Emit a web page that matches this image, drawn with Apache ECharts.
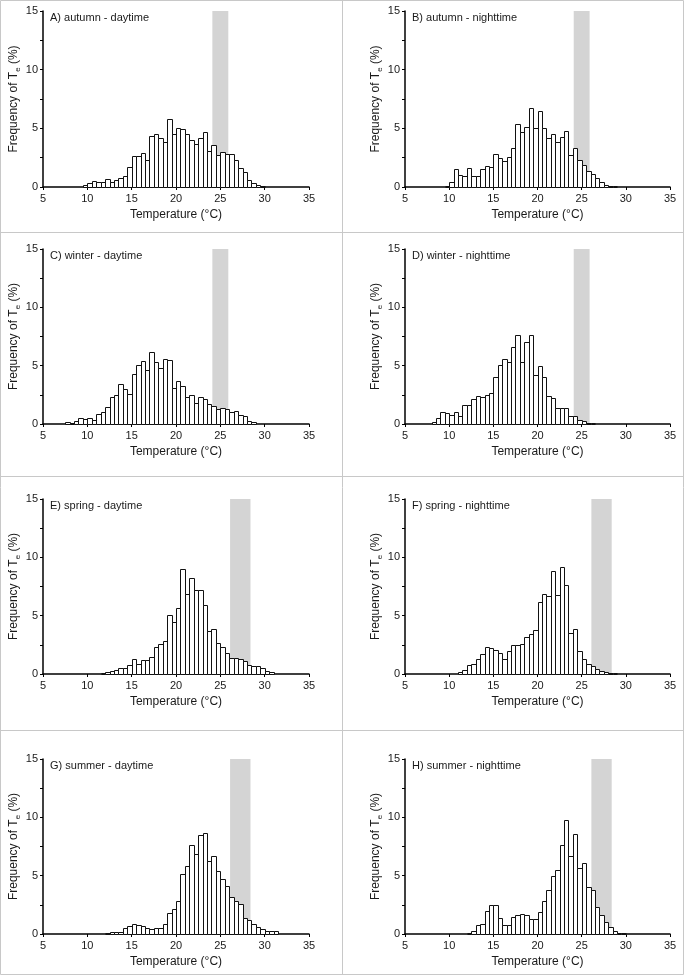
<!DOCTYPE html>
<html>
<head>
<meta charset="utf-8">
<script src="https://cdn.jsdelivr.net/npm/echarts@6/dist/echarts.min.js"></script>
<style>
  html, body { margin: 0; padding: 0; background: #fff; }
  #main { width: 685px; height: 976px; }
</style>
</head>
<body>
<div id="main"></div>
<script>
// 0.5 °C bins, left edge of each bin
const binLeft = [7.5, 8, 8.5, 9, 9.5, 10, 10.5, 11, 11.5, 12, 12.5, 13, 13.5, 14, 14.5,
  15, 15.5, 16, 16.5, 17, 17.5, 18, 18.5, 19, 19.5, 20, 20.5, 21, 21.5, 22, 22.5,
  23, 23.5, 24, 24.5, 25, 25.5, 26, 26.5, 27, 27.5, 28, 28.5, 29, 29.5, 30, 30.5, 31, 31.5];

// frequency (%) per bin
const autumnDay = [0, 0, 0, 0, 0.15, 0.3, 0.55, 0.4, 0.45, 0.7, 0.45, 0.6, 0.8, 0.95, 1.7,
  2.65, 2.6, 2.9, 2.3, 4.35, 4.5, 4.15, 3.85, 5.8, 4.55, 5.05, 4.95, 4.55, 4.0, 3.7, 4.15,
  4.7, 3.1, 3.6, 2.75, 3.0, 2.8, 2.8, 2.3, 1.6, 1.25, 0.6, 0.3, 0.15, 0.05, 0, 0, 0, 0];
const autumnNight = [0, 0, 0, 0, 0.05, 0.4, 1.5, 1.0, 0.9, 1.6, 0.9, 0.9, 1.5, 1.8, 1.7,
  2.8, 2.5, 2.2, 2.55, 3.3, 5.35, 4.7, 5.1, 6.7, 5.0, 6.5, 5.0, 4.2, 4.5, 3.8, 4.3,
  4.75, 2.7, 3.3, 2.3, 1.9, 1.35, 1.1, 0.75, 0.4, 0.2, 0.08, 0.05, 0, 0, 0, 0, 0, 0];
const winterDay = [0.15, 0.1, 0.3, 0.5, 0.4, 0.5, 0.35, 0.85, 1.0, 1.5, 2.3, 2.5, 3.4, 3.0, 2.55,
  4.3, 5.1, 5.4, 4.6, 6.2, 5.3, 4.8, 5.55, 5.45, 3.1, 3.7, 3.25, 2.35, 2.45, 1.8, 2.3,
  2.15, 1.7, 1.55, 1.3, 1.35, 1.3, 1.0, 1.1, 0.8, 0.65, 0.3, 0.15, 0, 0, 0, 0, 0, 0];
const winterNight = [0, 0.15, 0.5, 1.0, 0.95, 0.75, 1.0, 0.7, 1.6, 1.6, 2.15, 2.4, 2.3, 2.5, 2.65,
  4.0, 5.1, 5.6, 5.35, 6.6, 7.6, 5.3, 7.0, 7.6, 4.2, 5.0, 4.05, 2.4, 2.25, 1.35, 1.35,
  1.35, 0.65, 0.65, 0.35, 0.25, 0.1, 0.12, 0, 0, 0, 0, 0, 0, 0, 0, 0, 0, 0];
const springDay = [0, 0, 0, 0, 0, 0, 0, 0, 0.1, 0.2, 0.3, 0.35, 0.55, 0.55, 0.75,
  1.3, 0.9, 1.2, 1.2, 1.45, 2.3, 2.55, 2.85, 5.1, 4.5, 5.7, 9.0, 6.9, 8.2, 7.2, 7.2,
  5.9, 3.65, 3.85, 2.65, 2.3, 1.8, 1.4, 1.4, 1.3, 1.1, 0.8, 0.7, 0.7, 0.55, 0.3, 0.15, 0, 0];
const springNight = [0, 0, 0, 0, 0, 0, 0, 0.15, 0.35, 0.8, 0.9, 1.3, 1.7, 2.35, 2.2,
  2.05, 1.8, 1.3, 2.0, 2.45, 2.5, 2.55, 3.2, 3.45, 3.75, 6.15, 6.9, 6.7, 8.8, 6.75, 9.15,
  7.65, 3.55, 3.85, 1.95, 1.25, 0.9, 0.7, 0.4, 0.3, 0.15, 0.1, 0.05, 0, 0, 0, 0, 0, 0];
const summerDay = [0, 0, 0, 0, 0, 0, 0, 0, 0, 0.1, 0.15, 0.15, 0.2, 0.55, 0.65,
  0.9, 0.8, 0.7, 0.5, 0.4, 0.5, 0.55, 0.85, 1.8, 2.15, 2.85, 5.15, 5.8, 7.6, 6.9, 8.45,
  8.65, 6.25, 6.7, 5.4, 4.75, 4.1, 3.2, 2.85, 2.6, 1.4, 1.2, 0.85, 0.6, 0.45, 0.25, 0.25, 0.25, 0];
const summerNight = [0, 0, 0, 0, 0, 0, 0, 0, 0, 0.1, 0.3, 0.8, 0.9, 2.0, 2.45,
  2.5, 1.35, 0.8, 0.8, 1.5, 1.65, 1.7, 1.6, 1.25, 1.3, 1.9, 2.85, 3.75, 5.0, 5.5, 7.65,
  9.75, 6.7, 8.6, 5.65, 6.1, 4.0, 3.75, 2.3, 1.65, 1.0, 0.6, 0.25, 0.12, 0.05, 0, 0, 0, 0];

// shaded temperature ranges (°C)
const bandAutumnWinter = [24.1, 25.9];
const bandSpringSummer = [26.1, 28.4];

const xTicks = [5, 35, 5];   // min, max, step
const yTicks = [0, 15, 5];

const panels = [
  { label: 'A) autumn - daytime',   values: autumnDay,   band: bandAutumnWinter },
  { label: 'B) autumn - nighttime', values: autumnNight, band: bandAutumnWinter },
  { label: 'C) winter - daytime',   values: winterDay,   band: bandAutumnWinter },
  { label: 'D) winter - nighttime', values: winterNight, band: bandAutumnWinter },
  { label: 'E) spring - daytime',   values: springDay,   band: bandSpringSummer },
  { label: 'F) spring - nighttime', values: springNight, band: bandSpringSummer },
  { label: 'G) summer - daytime',   values: summerDay,   band: bandSpringSummer },
  { label: 'H) summer - nighttime', values: summerNight, band: bandSpringSummer }
];

// plot rectangles
const colLeft = [43, 405];
const colWidth = [266, 265];
const rowTop = [11, 249, 499, 759];
const rowHeight = [176, 175, 175, 175];

const FONT = '"Liberation Sans", Arial, sans-serif';
const TXT = '#1a1a1a';

const chart = echarts.init(document.getElementById('main'));

const grid = [], xAxis = [], yAxis = [], series = [], title = [];

panels.forEach((p, i) => {
  const col = i % 2, row = Math.floor(i / 2);
  grid.push({ left: colLeft[col], top: rowTop[row], width: colWidth[col], height: rowHeight[row] });

  xAxis.push({
    gridIndex: i, type: 'value', min: xTicks[0], max: xTicks[1], interval: xTicks[2],
    axisLine: { show: true, onZero: false, lineStyle: { color: '#000', width: 1.5 } },
    axisTick: { show: true, length: 3, lineStyle: { color: '#000', width: 1 } },
    axisLabel: { fontSize: 11, margin: 6, color: TXT, fontFamily: FONT },
    splitLine: { show: false },
    name: 'Temperature (°C)', nameLocation: 'middle', nameGap: 22,
    nameTextStyle: { fontSize: 12, color: TXT, fontFamily: FONT }
  });

  yAxis.push({
    gridIndex: i, type: 'value', min: yTicks[0], max: yTicks[1], interval: yTicks[2],
    axisLine: { show: true, lineStyle: { color: '#000', width: 1.5 } },
    axisTick: { show: true, length: 3, lineStyle: { color: '#000', width: 1 } },
    minorTick: { show: true, splitNumber: 2, length: 3, lineStyle: { color: '#000', width: 1 } },
    axisLabel: { fontSize: 11, margin: 5, color: TXT, fontFamily: FONT },
    splitLine: { show: false },
    name: '{n|Frequency of T}{s|e}{n| (%)}',
    nameLocation: 'middle', nameRotate: 90, nameGap: 21,
    nameTextStyle: {
      fontFamily: FONT, color: TXT,
      rich: {
        n: { fontSize: 12, fontFamily: FONT, color: TXT },
        s: { fontSize: 8, fontFamily: FONT, color: TXT, padding: [9, 0, 0, 0] }
      }
    }
  });

  title.push({
    text: p.label, left: colLeft[col] + 7, top: rowTop[row] + 1, padding: 0,
    textStyle: { fontSize: 11, fontWeight: 'normal', color: TXT, fontFamily: FONT }
  });

  // grey band behind the bars
  series.push({
    type: 'custom', xAxisIndex: i, yAxisIndex: i, z: 1, silent: true,
    data: [[p.band[0], p.band[1]]],
    renderItem: (params, api) => {
      const a = api.coord([api.value(0), yTicks[1]]);
      const b = api.coord([api.value(1), yTicks[0]]);
      return { type: 'rect', shape: { x: a[0], y: a[1], width: b[0] - a[0], height: b[1] - a[1] },
        style: { fill: '#d4d4d4' } };
    }
  });

  // histogram bars
  const data = [];
  p.values.forEach((v, k) => { if (v > 0) data.push([binLeft[k], v]); });
  series.push({
    type: 'custom', xAxisIndex: i, yAxisIndex: i, z: 3, silent: true,
    data: data,
    renderItem: (params, api) => {
      const x0 = api.value(0);
      const a = api.coord([x0, api.value(1)]);
      const b = api.coord([x0 + 0.5, 0]);
      return { type: 'rect',
        shape: { x: Math.round(a[0]) + 0.5, y: Math.round(a[1]) + 0.5,
                 width: Math.round(b[0]) - Math.round(a[0]), height: Math.round(b[1]) - Math.round(a[1]) },
        style: { fill: '#fff', stroke: '#111', lineWidth: 1 } };
    }
  });
});

const border = '#c8c8c8';
const graphic = [
  { type: 'rect', shape: { x: 0.5, y: 0.5, width: 683, height: 974 }, style: { fill: 'none', stroke: border }, z: 0 },
  { type: 'line', shape: { x1: 342.5, y1: 0, x2: 342.5, y2: 975 }, style: { stroke: border }, z: 0 },
  { type: 'line', shape: { x1: 0, y1: 232.5, x2: 684, y2: 232.5 }, style: { stroke: border }, z: 0 },
  { type: 'line', shape: { x1: 0, y1: 476.5, x2: 684, y2: 476.5 }, style: { stroke: border }, z: 0 },
  { type: 'line', shape: { x1: 0, y1: 730.5, x2: 684, y2: 730.5 }, style: { stroke: border }, z: 0 }
];

chart.setOption({
  animation: false,
  backgroundColor: '#fff',
  title, grid, xAxis, yAxis, series, graphic
});
</script>
</body>
</html>
